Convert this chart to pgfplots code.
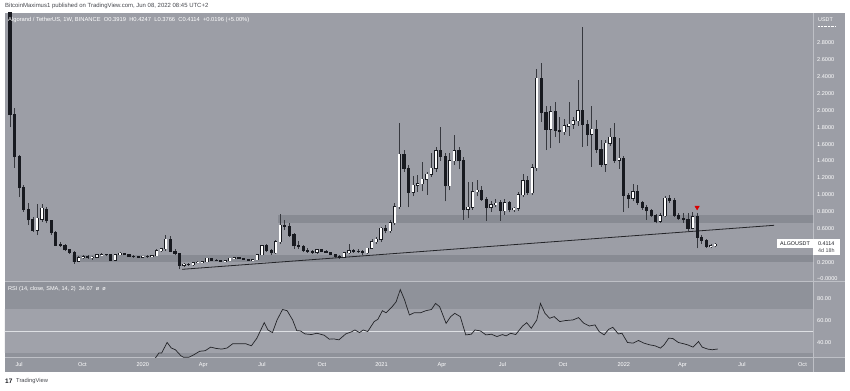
\documentclass[border=0pt]{standalone}
\usepackage{pgfplots}
\pgfplotsset{compat=1.18}
\usepackage{pgfplotstable}
\usepackage{fontspec}
\setmainfont{Liberation Sans}
\definecolor{bg}{RGB}{156,158,166}
\definecolor{timebg}{RGB}{148,151,159}
\definecolor{rsiout}{RGB}{143,146,154}
\definecolor{rsiband}{RGB}{160,162,170}
\definecolor{zone}{RGB}{136,139,147}
\definecolor{sepline}{RGB}{190,192,198}
\definecolor{cdark}{RGB}{24,26,32}
\definecolor{wick}{RGB}{55,57,63}
\definecolor{trend}{RGB}{35,36,40}
\definecolor{hdr}{RGB}{70,72,78}

\pgfplotstableread{
i o h l c
0 3.20 3.40 1.80 1.95
1 1.95 2.03 1.32 1.45
2 1.45 1.47 0.97 1.08
3 1.08 1.12 0.80 0.83
4 0.83 0.90 0.64 0.70
5 0.71 0.74 0.56 0.58
6 0.58 0.89 0.52 0.72
7 0.71 0.89 0.68 0.84
8 0.83 0.85 0.66 0.69
9 0.69 0.70 0.52 0.55
10 0.55 0.57 0.39 0.40
11 0.41 0.44 0.38 0.40
12 0.40 0.41 0.33 0.345
13 0.345 0.36 0.30 0.315
14 0.315 0.33 0.18 0.21
15 0.21 0.27 0.20 0.255
16 0.255 0.28 0.24 0.265
17 0.265 0.28 0.24 0.255
18 0.255 0.27 0.23 0.26
19 0.26 0.30 0.25 0.285
20 0.285 0.31 0.28 0.29
21 0.29 0.30 0.27 0.285
22 0.285 0.29 0.21 0.225
23 0.225 0.30 0.21 0.285
24 0.285 0.32 0.28 0.305
25 0.305 0.31 0.28 0.285
26 0.285 0.29 0.26 0.27
27 0.27 0.28 0.25 0.265
28 0.265 0.27 0.25 0.26
29 0.26 0.275 0.25 0.27
30 0.27 0.28 0.255 0.265
31 0.265 0.285 0.26 0.277
32 0.277 0.36 0.27 0.335
33 0.335 0.37 0.32 0.36
34 0.36 0.52 0.33 0.474
35 0.474 0.51 0.32 0.332
36 0.332 0.35 0.28 0.30
37 0.30 0.31 0.115 0.165
38 0.165 0.19 0.145 0.175
39 0.175 0.195 0.16 0.17
40 0.17 0.20 0.16 0.19
41 0.19 0.21 0.185 0.20
42 0.20 0.215 0.19 0.205
43 0.205 0.25 0.20 0.245
44 0.245 0.25 0.22 0.225
45 0.225 0.235 0.21 0.215
46 0.215 0.225 0.205 0.21
47 0.21 0.225 0.205 0.218
48 0.218 0.25 0.21 0.245
49 0.245 0.26 0.24 0.25
50 0.25 0.26 0.235 0.24
51 0.24 0.255 0.23 0.235
52 0.235 0.24 0.22 0.225
53 0.225 0.235 0.215 0.228
54 0.228 0.30 0.22 0.29
55 0.29 0.40 0.28 0.396
56 0.396 0.42 0.32 0.336
57 0.336 0.35 0.29 0.31
58 0.31 0.46 0.30 0.443
59 0.443 0.771 0.42 0.64
60 0.64 0.70 0.58 0.628
61 0.628 0.66 0.50 0.522
62 0.522 0.55 0.36 0.392
63 0.392 0.45 0.36 0.38
64 0.38 0.40 0.32 0.336
65 0.336 0.37 0.31 0.325
66 0.325 0.34 0.30 0.316
67 0.316 0.35 0.30 0.344
68 0.344 0.36 0.32 0.33
69 0.33 0.34 0.31 0.316
70 0.316 0.32 0.28 0.285
71 0.285 0.29 0.25 0.265
72 0.265 0.28 0.24 0.258
73 0.258 0.32 0.25 0.312
74 0.312 0.42 0.30 0.336
75 0.336 0.36 0.31 0.325
76 0.325 0.35 0.31 0.322
77 0.322 0.34 0.29 0.31
78 0.31 0.37 0.30 0.364
79 0.364 0.48 0.35 0.44
80 0.44 0.50 0.42 0.47
81 0.47 0.62 0.44 0.601
82 0.601 0.64 0.54 0.573
83 0.573 0.70 0.55 0.668
84 0.668 0.90 0.64 0.858
85 0.858 1.846 0.83 1.479
86 1.479 1.53 1.27 1.313
87 1.313 1.35 0.85 1.028
88 1.028 1.22 0.98 1.115
89 1.115 1.234 1.036 1.13
90 1.13 1.392 1.04 1.182
91 1.182 1.27 1.00 1.245
92 1.245 1.49 1.21 1.313
93 1.313 1.57 1.27 1.522
94 1.522 1.807 1.40 1.459
95 1.459 1.50 0.92 1.104
96 1.104 1.49 1.05 1.40
97 1.40 1.708 1.35 1.522
98 1.522 1.57 1.30 1.40
99 1.40 1.45 0.70 0.83
100 0.83 1.155 0.72 0.85
101 0.85 1.155 0.82 1.036
102 1.036 1.17 0.98 1.055
103 1.055 1.10 0.93 0.945
104 0.945 0.97 0.692 0.85
105 0.85 0.93 0.80 0.88
106 0.88 0.95 0.85 0.90
107 0.905 0.94 0.69 0.81
108 0.81 0.95 0.76 0.905
109 0.905 0.93 0.79 0.82
110 0.82 0.86 0.80 0.84
111 0.84 1.03 0.81 0.997
112 0.997 1.25 0.97 1.163
113 1.163 1.22 1.00 1.024
114 1.024 1.36 1.00 1.32
115 1.32 2.487 1.28 2.38
116 2.38 2.558 1.866 1.973
117 1.973 2.052 1.53 1.775
118 1.775 2.05 1.55 1.985
119 1.985 2.104 1.688 1.767
120 1.767 1.925 1.61 1.745
121 1.745 1.90 1.71 1.815
122 1.815 2.10 1.70 1.835
123 1.835 1.925 1.78 1.878
124 1.878 2.36 1.82 1.993
125 1.993 2.99 1.57 1.835
126 1.835 1.886 1.577 1.716
127 1.716 2.05 1.33 1.775
128 1.775 1.886 1.50 1.542
129 1.542 1.65 1.33 1.36
130 1.36 1.65 1.27 1.61
131 1.61 1.787 1.58 1.68
132 1.68 1.846 1.38 1.41
133 1.41 1.668 1.31 1.43
134 1.43 1.46 0.80 0.996
135 0.996 1.02 0.838 0.957
136 0.957 1.127 0.92 1.036
137 1.036 1.115 0.88 0.906
138 0.906 0.93 0.82 0.85
139 0.85 0.88 0.70 0.81
140 0.81 0.83 0.73 0.751
141 0.751 0.77 0.66 0.688
142 0.688 0.78 0.67 0.751
143 0.751 0.98 0.74 0.958
144 0.958 1.00 0.90 0.937
145 0.937 0.96 0.74 0.759
146 0.759 0.78 0.70 0.712
147 0.712 0.78 0.67 0.70
148 0.70 0.78 0.56 0.601
149 0.601 0.80 0.59 0.739
150 0.739 0.78 0.364 0.494
151 0.494 0.52 0.42 0.455
152 0.455 0.47 0.37 0.385
153 0.385 0.41 0.37 0.392
154 0.3919 0.4247 0.3766 0.4114
}\candles

\begin{document}
\begin{tikzpicture}[x=1bp,y=1bp]
\fill[white] (0,0) rectangle (850,390);
\fill[bg] (5,18) rectangle (845,377);
\fill[rsiout] (5,33) rectangle (813,109);
\fill[timebg] (5,18) rectangle (845,33);
\draw[sepline, line width=0.7bp] (813,18) -- (813,377);
\draw[sepline, line width=0.7bp] (5,109) -- (845,109);
\draw[sepline, line width=0.7bp] (5,33) -- (845,33);

% ---------------- main price pane ----------------
\begin{axis}[
  at={(5bp,109bp)}, anchor=south west, scale only axis,
  width=808bp, height=268bp,
  xmin=-1.09, xmax=175.3, ymin=-0.0237, ymax=3.1554,
  axis line style={draw=none}, major tick length=0pt,
  xtick=\empty,
  ytick={0,0.2,0.6,0.8,1.0,1.2,1.4,1.6,1.8,2.0,2.2,2.4,2.6,2.8},
  yticklabels={−0.0000,0.2000,0.6000,0.8000,1.0000,1.2000,1.4000,1.6000,1.8000,2.0000,2.2000,2.4000,2.6000,2.8000},
  yticklabel pos=right,
  yticklabel style={font=\fontsize{5.6}{6}\selectfont, text=white, anchor=west, inner sep=0pt, xshift=4bp},
]
\addplot[draw=none, fill=zone, forget plot] coordinates {(13.5,0.205) (176,0.205) (176,0.28) (13.5,0.28)} -- cycle;
\addplot[draw=none, fill=zone, forget plot] coordinates {(58.5,0.66) (176,0.66) (176,0.76) (58.5,0.76)} -- cycle;
\addplot[trend, line width=0.8bp, forget plot] coordinates {(37.6,0.115) (166.8,0.637)};
% wicks
\addplot[draw=none, mark=none, forget plot,
  error bars/.cd, y dir=plus, y explicit, error mark=none,
  error bar style={line width=0.7bp, draw=wick, solid}]
  table[x=i, y=l, y error plus expr=\thisrow{h}-\thisrow{l}] {\candles};
% bodies (dark, also outline of the up candles)
\addplot[draw=none, mark=none, forget plot,
  error bars/.cd, y dir=plus, y explicit, error mark=none,
  error bar style={line width=3.2bp, draw=cdark, line cap=butt, solid}]
  table[x=i, y expr={min(\thisrow{o},\thisrow{c})-0.006},
        y error plus expr={abs(\thisrow{c}-\thisrow{o})+0.012}] {\candles};
% white fill of the up candles
\addplot[draw=none, mark=none, forget plot,
  error bars/.cd, y dir=plus, y explicit, error mark=none,
  error bar style={line width=2.0bp, draw=white, line cap=butt, solid}]
  table[x=i, y=o, y error plus expr={max(\thisrow{c}-\thisrow{o},0)}] {\candles};
\addplot[only marks, mark=triangle*, mark size=2.6bp,
  mark options={rotate=180, fill=red!85!black, draw=red!85!black}]
  coordinates {(150,0.85)};
\end{axis}

% ---------------- RSI pane ----------------
\begin{axis}[
  at={(5bp,33bp)}, anchor=south west, scale only axis,
  width=808bp, height=76bp,
  xmin=-1.09, xmax=175.3, ymin=26.8, ymax=95.9,
  axis line style={draw=none}, major tick length=0pt,
  xtick={2,15.8,29,42.2,55,68.1,81.1,94.3,107.5,120.7,134,146.8,159.8,173},
  xticklabels={Jul,Oct,2020,Apr,Jul,Oct,2021,Apr,Jul,Oct,2022,Apr,Jul,Oct},
  xticklabel style={font=\fontsize{5.6}{6}\selectfont, text=white, anchor=center, yshift=-8bp},
  ytick={40,60,80},
  yticklabels={40.00,60.00,80.00},
  yticklabel pos=right,
  yticklabel style={font=\fontsize{5.6}{6}\selectfont, text=white, anchor=west, inner sep=0pt, xshift=4bp},
]
\addplot[draw=none, fill=rsiband, forget plot] coordinates {(-2,30) (177,30) (177,70) (-2,70)} -- cycle;
\addplot[color={rgb,255:red,222;green,224;blue,228}, line width=0.7bp, forget plot] coordinates {(-2,50) (177,50)};
\addplot[trend, line width=0.7bp] coordinates {
(31.0,22) (31.9,26.8) (32.5,30.4) (33.1,30.4) (34.3,40) (35.2,35) (36.1,33.4) (37.3,28)
(37.9,26.5) (39.0,26.5) (40.2,29) (41.4,32) (42.6,32.5) (43.8,35.8) (45.0,34.6) (46.2,34)
(47.4,35) (48.6,38.8) (49.8,38.8) (51.5,38.8) (52.7,37) (53.9,43.9) (55.5,58) (56.3,51.4)
(57.3,49) (58.3,60.5) (59.5,70) (60.5,68.9) (61.7,60.5) (62.6,50.8) (63.4,50.5) (64.4,47.8)
(65.8,47.2) (67.0,48.4) (68.6,46.6) (69.7,43) (70.6,43.3) (71.8,42.4) (73.3,47.8) (74.5,49.6)
(75.3,51.4) (76.3,49) (77.1,51.4) (78.1,50) (79.5,59) (80.3,61) (81.3,68.9) (82.1,67)
(83.3,71.9) (84.3,77) (85.2,88.1) (86.1,79.1) (87.2,65) (88.2,67) (89.6,67) (90.8,68.9)
(92.0,70) (92.9,75.5) (93.8,72.5) (95.2,57.4) (96.2,63.5) (97.1,66.5) (98.3,63.5) (99.5,46.9)
(100.7,47.5) (101.5,51.4) (102.7,50.5) (103.9,46.9) (105.1,47.5) (106.3,45.4) (107.5,47.2) (108.3,46)
(109.3,48.4) (110.4,47.2) (111.9,55) (112.8,58) (113.8,52.9) (115.0,60.5) (115.8,75.5) (116.8,66.5)
(117.8,62) (118.8,63.5) (120.0,59) (121.2,59.9) (122.9,60.5) (124.1,62.6) (125.3,57.4) (126.5,55)
(127.7,56) (128.6,50) (129.7,46.9) (130.7,52) (131.6,53.8) (132.8,47.8) (133.6,48.4) (134.8,40)
(136.0,39.4) (137.2,41.8) (138.4,39.4) (139.6,37.9) (140.8,37) (142.0,34.9) (142.8,37.9) (143.8,43.9)
(144.7,43.6) (145.9,40) (147.1,38.8) (147.9,37.9) (149.1,35.8) (150.3,40.9) (151.1,35.8) (152.3,34)
(153.3,33.4) (154.5,34.1)};
\end{axis}

% ---------------- texts ----------------
\node[anchor=west, inner sep=0pt, text=hdr, font=\fontsize{6}{7}\selectfont] at (5,384) {BitcoinMaximus1 published on TradingView.com, Jun 08, 2022 08:45 UTC+2};
\node[anchor=west, inner sep=0pt, text=white, font=\fontsize{5.8}{7}\selectfont] at (8,370) {Algorand / TetherUS, 1W, BINANCE\ \ O0.3919\ \ H0.4247\ \ L0.3766\ \ C0.4114\ \ +0.0196 (+5.00\%)};
\node[anchor=west, inner sep=0pt, text=white, font=\fontsize{5.6}{7}\selectfont] at (8,101) {RSI (14, close, SMA, 14, 2)\ \ 34.07\ \ ø\ \ ø};
\node[anchor=west, inner sep=0pt, text=white, font=\fontsize{5.4}{6}\selectfont] at (818,370) {USDT};
\draw[white, densely dotted, line width=0.4bp] (818,364) -- (836,364);
% last price label
\fill[white] (777,142) rectangle (813,151);
\fill[white] (813,135) rectangle (840,151);
\node[anchor=west, inner sep=0pt, text=cdark, font=\fontsize{5.4}{6}\selectfont] at (780,146.5) {ALGOUSDT};
\node[anchor=west, inner sep=0pt, text=cdark, font=\fontsize{5.4}{6}\selectfont] at (818,146.5) {0.4114};
\node[anchor=west, inner sep=0pt, text=hdr, font=\fontsize{5.4}{6}\selectfont] at (818,139) {4d 18h};
% footer
\node[anchor=west, inner sep=0pt, text=cdark, font=\fontsize{6.5}{7}\selectfont\bfseries] at (5,9) {17};
\node[anchor=west, inner sep=0pt, text=hdr, font=\fontsize{5.8}{7}\selectfont] at (16,9) {TradingView};
\end{tikzpicture}
\end{document}
